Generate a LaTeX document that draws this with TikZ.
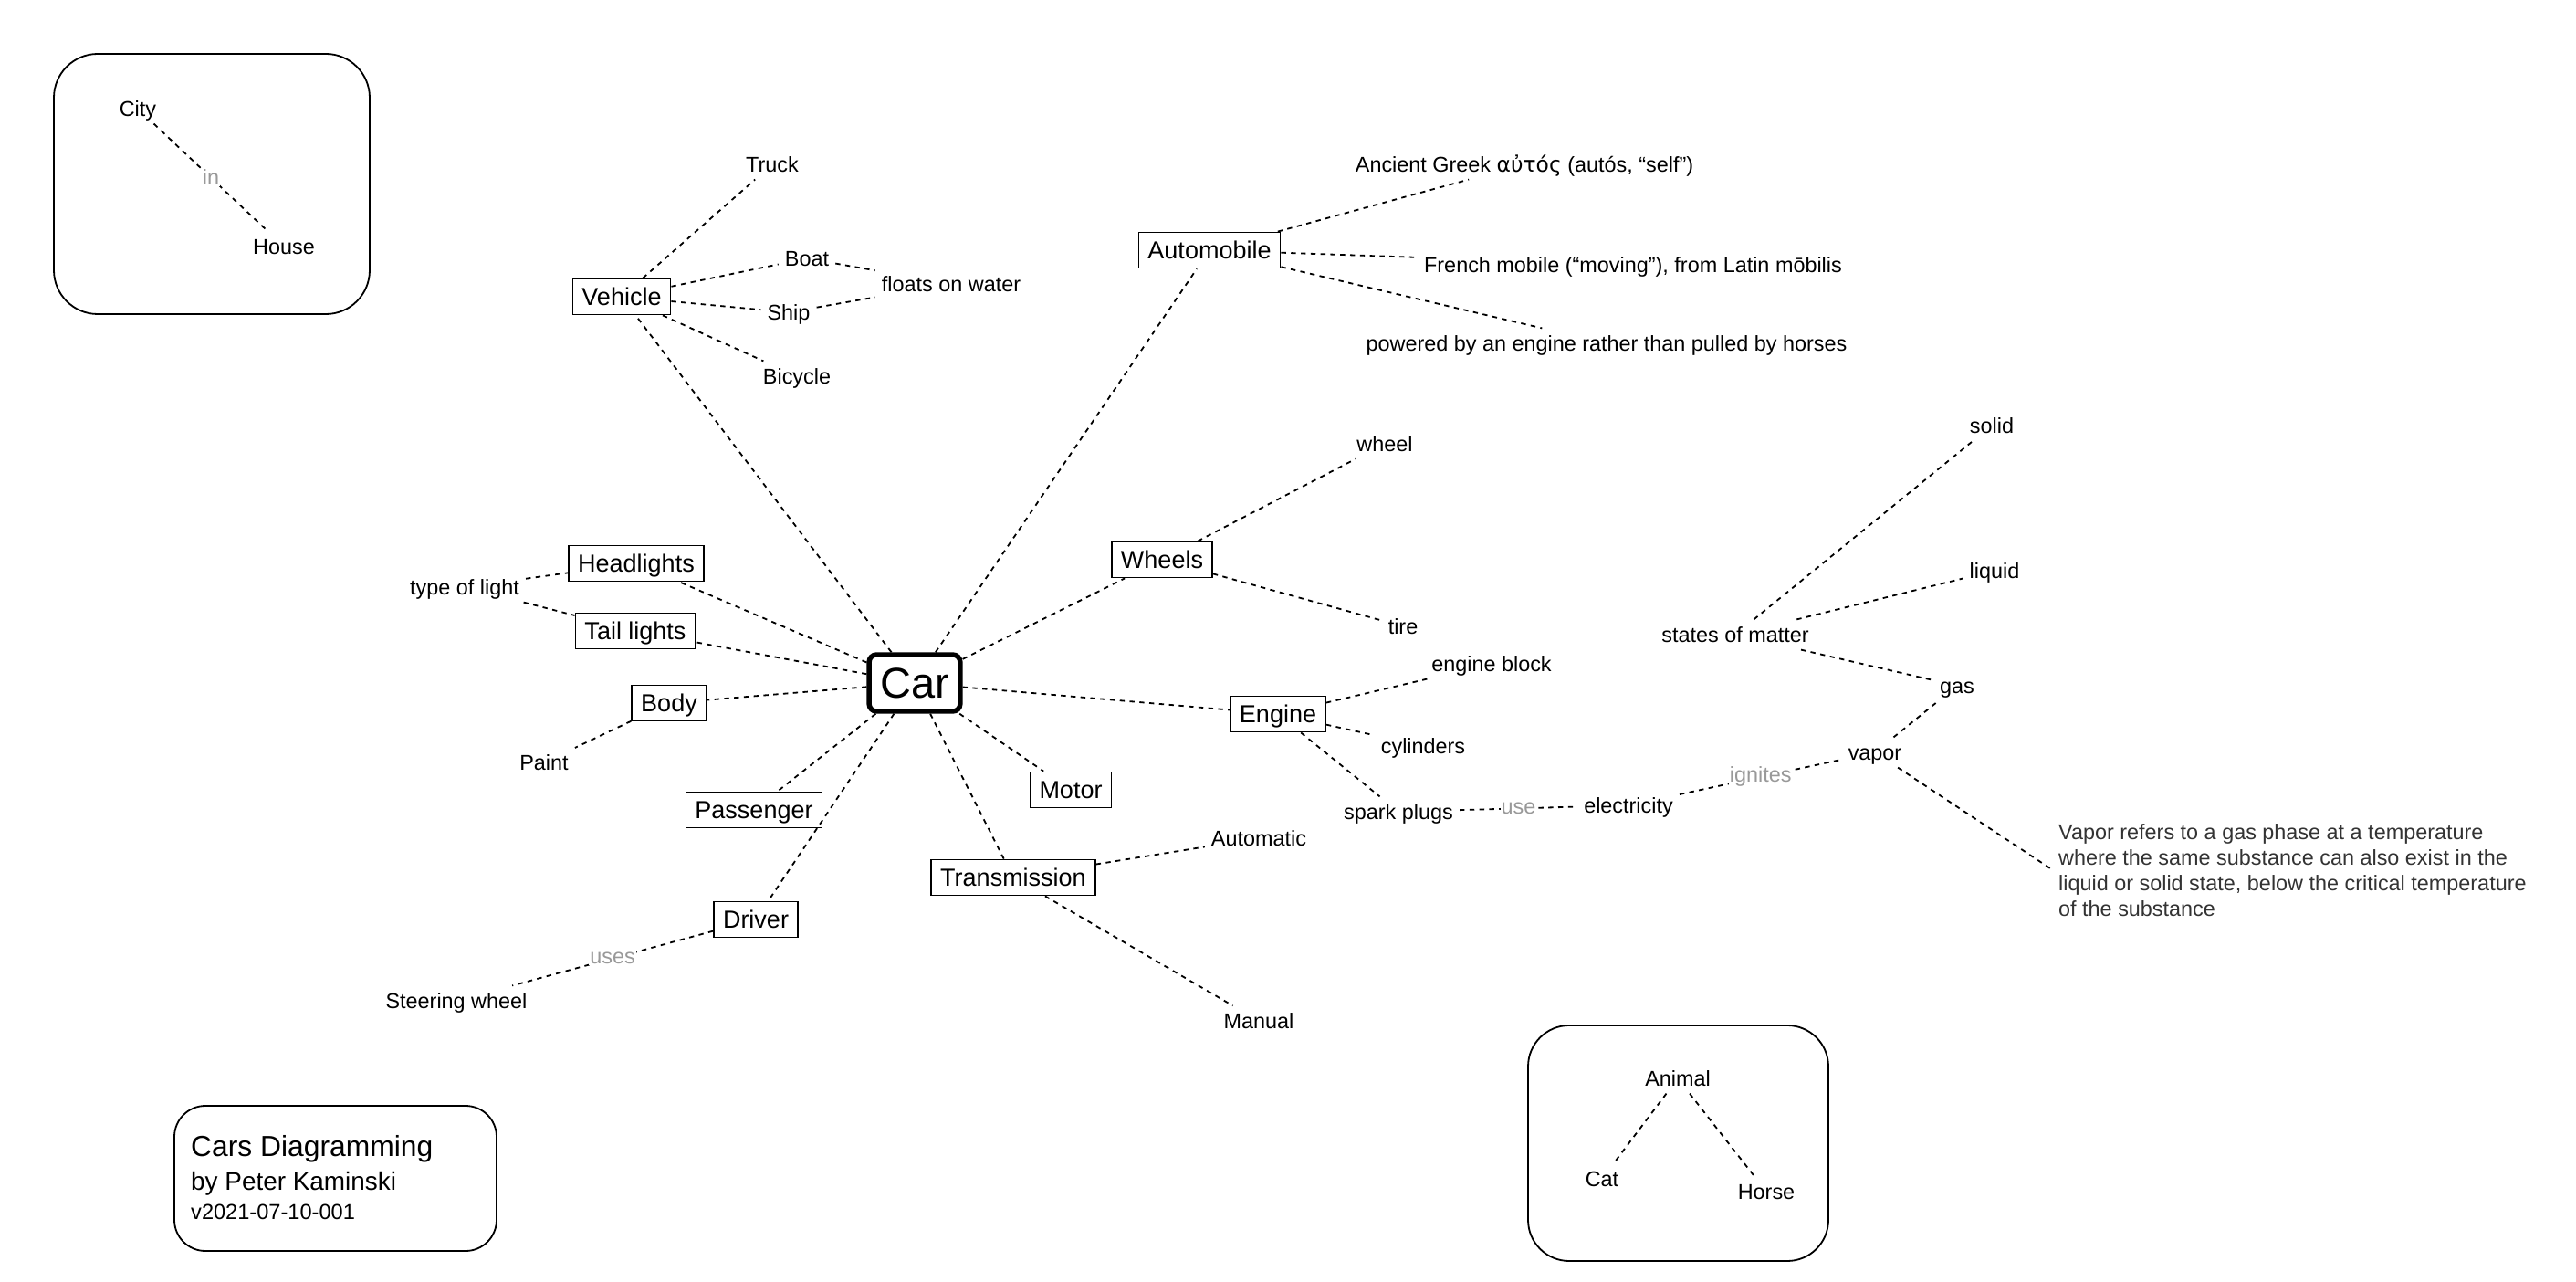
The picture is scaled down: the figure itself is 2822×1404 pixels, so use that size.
\documentclass[tikz,border=0pt]{standalone}
\usepackage{fontspec}
\setmainfont{Liberation Sans}
\newfontfamily\greekfont{DejaVu Sans}
\definecolor{labelgray}{HTML}{999999}
\definecolor{notegray}{HTML}{333333}
\begin{document}
\begin{tikzpicture}[x=1pt,y=-1pt,
  lbl/.style={font=\fontsize{23.4}{28}\selectfont, inner xsep=7pt, inner ysep=8pt,
    text height=16.8pt, text depth=0pt},
  box/.style={draw, line width=1.8pt, font=\fontsize{27}{32}\selectfont,
    inner xsep=10pt, inner ysep=0pt, minimum height=39pt,
    text height=19.4pt, text depth=0pt},
  hub/.style={draw, line width=5.4pt, rounded corners=8pt,
    font=\fontsize{47}{52}\selectfont, inner xsep=12pt, inner ysep=0pt,
    minimum height=62pt, text height=33.8pt, text depth=0pt},
  link/.style={line width=1.8pt, dash pattern=on 5.4pt off 5.4pt},
  elbl/.style={fill=white, text=labelgray, font=\fontsize{23.4}{28}\selectfont,
    inner sep=1pt},
  frame/.style={draw, line width=1.8pt},
]
\useasboundingbox (0,0) rectangle (2822,1404);

% framed examples and title card
\draw[frame, rounded corners=48pt] (59,59) rectangle (405,344);
\draw[frame, rounded corners=45pt] (1674,1123) rectangle (2003,1381);
\draw[frame, rounded corners=34pt] (191,1211) rectangle (544,1370);

\node[lbl] (city) at (151,119) {City};
\node[lbl] (house) at (311,270) {House};
\draw[link] (city) -- node[elbl]{in} (house);

\node[lbl] (animal) at (1838,1181) {Animal};
\node[lbl] (cat) at (1755,1291) {Cat};
\node[lbl] (horse) at (1935,1305) {Horse};
\draw[link] (animal) -- (cat);
\draw[link] (animal) -- (horse);

\node[anchor=west, inner sep=0pt, font=\fontsize{31.8}{36}\selectfont] (t1) at (209,1258) {Cars Diagramming};
\node[anchor=west, inner sep=0pt, font=\fontsize{27.9}{32}\selectfont] (t2) at (209,1296) {by Peter Kaminski};
\node[anchor=west, inner sep=0pt, font=\fontsize{23.6}{28}\selectfont] (t3) at (209,1327) {v2021-07-10-001};

% central concept
\node[hub] (car) at (1002,748) {Car};

% boxed concepts
\node[box] (vehicle) at (681,325) {Vehicle};
\node[box] (auto) at (1325,274) {Automobile};
\node[box] (head) at (697,617) {Headlights};
\node[box] (tail) at (696,691) {Tail lights};
\node[box] (body) at (733,770) {Body};
\node[box] (pass) at (826,887) {Passenger};
\node[box] (driver) at (828,1007) {Driver};
\node[box] (motor) at (1173,865) {Motor};
\node[box] (trans) at (1110,961) {Transmission};
\node[box] (wheels) at (1273,613) {Wheels};
\node[box] (engine) at (1400,782) {Engine};

% plain text concepts
\node[lbl] (truck) at (846,180) {Truck};
\node[lbl] (boat) at (884,283) {Boat};
\node[lbl] (ship) at (864,342) {Ship};
\node[lbl] (bicycle) at (873,412) {Bicycle};
\node[lbl] (floats) at (1042,311) {floats on water};
\node[lbl] (greek) at (1670,180) {Ancient Greek {\greekfont αὐτός} (autós, “self”)};
\node[lbl] (french) at (1789,290) {French mobile (“moving”), from Latin mōbilis};
\node[lbl] (powered) at (1760,376) {powered by an engine rather than pulled by horses};
\node[lbl] (light) at (509,643) {type of light};
\node[lbl] (paint) at (596,835) {Paint};
\node[lbl] (steer) at (500,1096) {Steering wheel};
\node[lbl] (automatic) at (1379,918) {Automatic};
\node[lbl] (manual) at (1379,1118) {Manual};
\node[lbl] (wheel) at (1517,486) {wheel};
\node[lbl] (tire) at (1537,686) {tire};
\node[lbl] (block) at (1634,727) {engine block};
\node[lbl] (cyl) at (1559,817) {cylinders};
\node[lbl] (spark) at (1532,889) {spark plugs};
\node[lbl] (elec) at (1784,882) {electricity};
\node[lbl] (vapor) at (2054,824) {vapor};
\node[lbl] (gas) at (2144,751) {gas};
\node[lbl] (states) at (1901,695) {states of matter};
\node[lbl] (solid) at (2182,466) {solid};
\node[lbl] (liquid) at (2185,625) {liquid};
\node[anchor=west, inner sep=0pt, align=left, text=notegray,
  font=\fontsize{23.4}{28.2}\selectfont] (vnote) at (2255,953)
  {Vapor refers to a gas phase at a temperature\\
   where the same substance can also exist in the\\
   liquid or solid state, below the critical temperature\\
   of the substance};

% connectors
\foreach \n in {vehicle,auto,head,tail,body,pass,driver,motor,trans,wheels,engine}
  \draw[link] (car) -- (\n);

\draw[link] (vehicle) -- (truck);
\draw[link] (vehicle) -- (boat);
\draw[link] (vehicle) -- (ship);
\draw[link] (vehicle) -- (bicycle);
\draw[link] (boat) -- (floats);
\draw[link] (ship) -- (floats);

\draw[link] (auto) -- (greek);
\draw[link] (auto) -- (french);
\draw[link] (auto) -- (powered);

\draw[link] (light) -- (head);
\draw[link] (light) -- (tail);
\draw[link] (body) -- (paint);
\draw[link] (driver) -- node[elbl]{uses} (steer);

\draw[link] (trans) -- (automatic);
\draw[link] (trans) -- (manual);
\draw[link] (wheels) -- (wheel);
\draw[link] (wheels) -- (tire);
\draw[link] (engine) -- (block);
\draw[link] (engine) -- (cyl);
\draw[link] (engine) -- (spark);

\draw[link] (spark) -- node[elbl]{use} (elec);
\draw[link] (elec) -- node[elbl]{ignites} (vapor);
\draw[link] (vapor) -- (gas);
\draw[link] (states) -- (gas);
\draw[link] (states) -- (solid);
\draw[link] (states) -- (liquid);
\draw[link] (vapor) -- ([xshift=-6pt]vnote.west);
\end{tikzpicture}
\end{document}
